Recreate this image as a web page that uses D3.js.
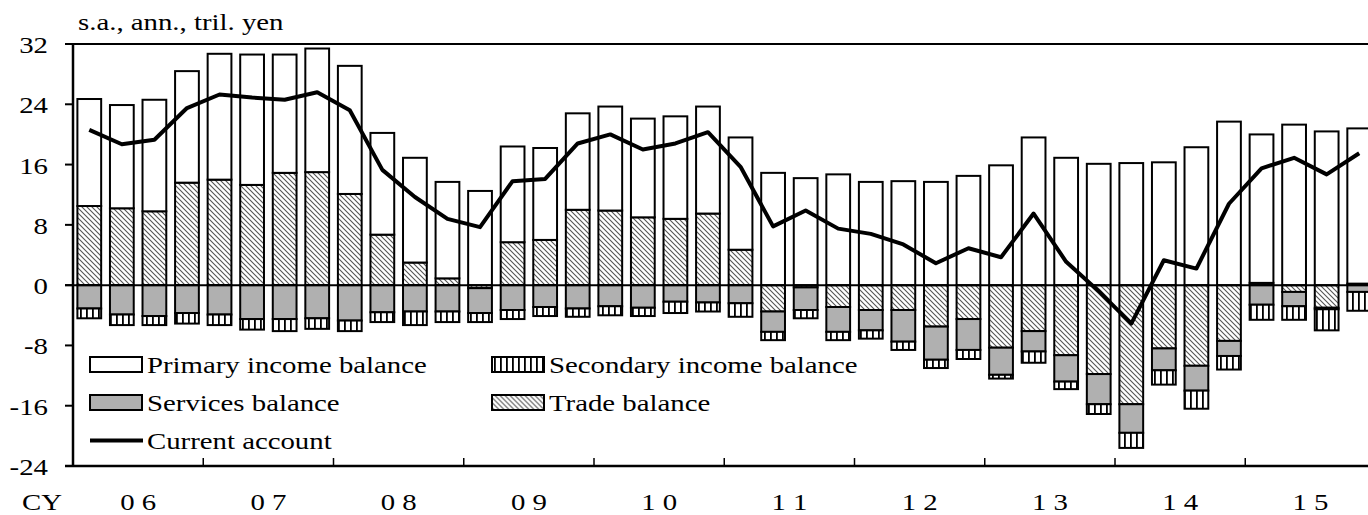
<!DOCTYPE html>
<html lang="en">
    <head>
        <meta charset="utf-8">
        <title>Current account balance</title>
        <script src="https://cdn.jsdelivr.net/npm/d3@7"></script>
        <style type="text/css">
                body {
                    margin: 0;
                    background: #fff;
                }
                text {
                    font-family: "Liberation Serif", "Times New Roman", serif;
                    font-size: 24px;
                    fill: #000;
                }
        </style>
    </head>
    <body>
        <script type="text/javascript">
        // quarterly, CY2006 Q1 - CY2015 Q4
        var years = ["0 6", "0 7", "0 8", "0 9", "1 0", "1 1", "1 2", "1 3", "1 4", "1 5"];
        var yTicks = [-24, -16, -8, 0, 8, 16, 24, 32];

        var trade = [10.5, 10.2, 9.8, 13.6, 14.0, 13.3, 14.9, 15.0, 12.1, 6.7,
                     3.0, 0.9, -0.4, 5.7, 6.0, 10.0, 9.9, 9.0, 8.8, 9.5,
                     4.7, -3.5, -0.3, -2.9, -3.3, -3.3, -5.5, -4.5, -8.3, -6.1,
                     -9.3, -11.8, -15.8, -8.4, -10.7, -7.4, 0.3, -0.9, -3.0, 0.2];
        var primary = [14.2, 13.7, 14.8, 14.8, 16.7, 17.3, 15.7, 16.4, 17.0, 13.5,
                       13.9, 12.8, 12.5, 12.7, 12.2, 12.8, 13.8, 13.1, 13.6, 14.2,
                       14.9, 14.9, 14.2, 14.7, 13.7, 13.8, 13.7, 14.5, 15.9, 19.6,
                       16.9, 16.1, 16.2, 16.3, 18.3, 21.7, 19.7, 21.3, 20.4, 20.6];
        var services = [-3.1, -3.9, -4.1, -3.7, -3.9, -4.5, -4.5, -4.4, -4.7, -3.6,
                        -3.5, -3.5, -3.3, -3.3, -2.9, -3.1, -2.8, -3.0, -2.2, -2.3,
                        -2.4, -2.7, -3.0, -3.3, -2.7, -4.2, -4.4, -4.1, -3.6, -2.7,
                        -3.5, -4.0, -3.8, -2.9, -3.3, -2.0, -2.6, -1.9, -0.2, -0.9];
        var secondary = [-1.3, -1.4, -1.2, -1.4, -1.4, -1.4, -1.6, -1.4, -1.4, -1.3,
                         -1.8, -1.4, -1.2, -1.2, -1.2, -1.1, -1.2, -1.1, -1.5, -1.2,
                         -1.8, -1.1, -1.1, -1.1, -1.1, -1.1, -1.1, -1.2, -0.5, -1.5,
                         -1.0, -1.3, -2.0, -1.9, -2.4, -1.8, -2.0, -1.8, -2.8, -2.5];
        var current = [20.6, 18.7, 19.3, 23.5, 25.3, 24.9, 24.6, 25.6, 23.2, 15.3,
                       11.7, 8.8, 7.7, 13.8, 14.1, 18.8, 20.0, 18.0, 18.8, 20.3,
                       15.7, 7.8, 9.9, 7.5, 6.8, 5.4, 2.9, 4.9, 3.7, 9.5,
                       3.1, -0.8, -5.1, 3.3, 2.2, 10.8, 15.5, 16.9, 14.7, 17.5];

        var w = 1368;
        var h = 515;
        var plotLeft = 73, plotRight = 1375.5, plotTop = 44, plotBottom = 466;
        var sx = 1.2; // the original lettering is stretched sideways

        var rows = trade.map(function(d, i) {
            return {i: i, trade: d, primary: primary[i], services: services[i], secondary: secondary[i]};
        });

        var svg = d3.select("body")
                .append("svg")
                .attr("width", w)
                .attr("height", h);

        var defs = svg.append("defs");
        var hatch = defs.append("pattern")
                .attr("id", "hatch")
                .attr("patternUnits", "userSpaceOnUse")
                .attr("width", 5)
                .attr("height", 5);
        hatch.append("rect").attr("width", 5).attr("height", 5).attr("fill", "#fff");
        hatch.append("path")
                .attr("d", "M0,0L5,5M-1,4L1,6M4,-1L6,1")
                .attr("stroke", "#555")
                .attr("stroke-width", 1.1);

        var stripe = defs.append("pattern")
                .attr("id", "stripe")
                .attr("patternUnits", "userSpaceOnUse")
                .attr("width", 6)
                .attr("height", 6);
        stripe.append("rect").attr("width", 6).attr("height", 6).attr("fill", "#fff");
        stripe.append("rect").attr("x", 2).attr("width", 1.8).attr("height", 6).attr("fill", "#000");

        var fills = {trade: "url(#hatch)", primary: "#fff", services: "#b0b0b0", secondary: "url(#stripe)"};

        var x = d3.scaleBand()
                .domain(d3.range(trade.length))
                .range([plotLeft, plotRight])
                .paddingInner(0.27)
                .paddingOuter(0.135);
        var xYear = d3.scaleBand()
                .domain(years)
                .range([plotLeft, plotRight]);
        var y = d3.scaleLinear()
                .domain([-24, 32])
                .range([plotBottom, plotTop]);

        // bars: positives stack trade then primary, negatives trade, services, secondary
        var series = d3.stack()
                .keys(["trade", "primary", "services", "secondary"])
                .offset(d3.stackOffsetDiverging)(rows);

        svg.append("g")
                .selectAll("g")
                .data(series)
                .enter()
                .append("g")
                .attr("fill", function(s) { return fills[s.key]; })
                .selectAll("rect")
                .data(function(s) { return s; })
                .enter()
                .append("rect")
                .attr("x", function(d) { return x(d.data.i); })
                .attr("width", x.bandwidth())
                .attr("y", function(d) { return y(Math.max(d[0], d[1])); })
                .attr("height", function(d) { return Math.abs(y(d[0]) - y(d[1])); })
                .attr("stroke", "#000")
                .attr("stroke-width", 2);

        // frame and axes
        svg.append("line")
                .attr("x1", plotLeft - 8).attr("x2", w)
                .attr("y1", y(32)).attr("y2", y(32))
                .attr("stroke", "#000").attr("stroke-width", 2);
        svg.append("line")
                .attr("x1", plotLeft - 8).attr("x2", w)
                .attr("y1", y(0)).attr("y2", y(0))
                .attr("stroke", "#000").attr("stroke-width", 2);
        svg.append("line")
                .attr("x1", plotLeft - 8).attr("x2", w)
                .attr("y1", y(-24)).attr("y2", y(-24))
                .attr("stroke", "#000").attr("stroke-width", 2.5);
        svg.append("line")
                .attr("x1", plotLeft).attr("x2", plotLeft)
                .attr("y1", y(32)).attr("y2", y(-24))
                .attr("stroke", "#000").attr("stroke-width", 2.5);

        svg.selectAll(".ytick")
                .data(yTicks)
                .enter()
                .append("line")
                .attr("x1", plotLeft - 8).attr("x2", plotLeft)
                .attr("y1", function(d) { return y(d); })
                .attr("y2", function(d) { return y(d); })
                .attr("stroke", "#000").attr("stroke-width", 2);

        svg.selectAll(".ylabel")
                .data(yTicks)
                .enter()
                .append("text")
                .attr("transform", function(d) { return "translate(48," + (y(d) + 9) + ") scale(" + sx + ",1)"; })
                .attr("text-anchor", "end")
                .attr("font-size", "25px")
                .text(function(d) { return d; });

        // year boundaries
        svg.selectAll(".xtick")
                .data(years.slice(1))
                .enter()
                .append("line")
                .attr("x1", function(d) { return xYear(d); })
                .attr("x2", function(d) { return xYear(d); })
                .attr("y1", plotBottom - 8).attr("y2", plotBottom)
                .attr("stroke", "#000").attr("stroke-width", 1.5);

        svg.selectAll(".xlabel")
                .data(years)
                .enter()
                .append("text")
                .attr("transform", function(d) {
                    return "translate(" + (xYear(d) + xYear.bandwidth() / 2) + ",510) scale(" + sx + ",1)";
                })
                .attr("text-anchor", "middle")
                .attr("font-size", "25px")
                .text(function(d) { return d; });

        svg.append("text")
                .attr("transform", "translate(22,510) scale(" + sx + ",1)")
                .attr("font-size", "25px")
                .text("CY");

        svg.append("text")
                .attr("transform", "translate(78,30) scale(" + sx + ",1)")
                .text("s.a., ann., tril. yen");

        // current account line
        var line = d3.line()
                .x(function(d, i) { return x(i) + x.bandwidth() / 2; })
                .y(function(d) { return y(d); });

        svg.append("path")
                .datum(current)
                .attr("d", line)
                .attr("fill", "none")
                .attr("stroke", "#000")
                .attr("stroke-width", 4)
                .attr("stroke-linejoin", "round");

        // legend
        var legend = [
            {name: "Primary income balance", fill: fills.primary, col: 0, row: 0},
            {name: "Services balance", fill: fills.services, col: 0, row: 1},
            {name: "Current account", fill: null, col: 0, row: 2},
            {name: "Secondary income balance", fill: fills.secondary, col: 1, row: 0},
            {name: "Trade balance", fill: fills.trade, col: 1, row: 1}
        ];
        var colX = [90, 492];

        var item = svg.selectAll(".legend")
                .data(legend)
                .enter()
                .append("g")
                .attr("transform", function(d) { return "translate(" + colX[d.col] + "," + (364.5 + d.row * 38) + ")"; });

        item.filter(function(d) { return d.fill; })
                .append("rect")
                .attr("x", 0).attr("y", -7.5)
                .attr("width", 52).attr("height", 15)
                .attr("fill", function(d) { return d.fill; })
                .attr("stroke", "#000")
                .attr("stroke-width", 2);

        item.filter(function(d) { return !d.fill; })
                .append("line")
                .attr("x1", 0).attr("x2", 53)
                .attr("y1", 0).attr("y2", 0)
                .attr("stroke", "#000")
                .attr("stroke-width", 4);

        item.append("text")
                .attr("transform", "translate(57,8) scale(" + sx + ",1)")
                .text(function(d) { return d.name; });
        </script>
    </body>
</html>
